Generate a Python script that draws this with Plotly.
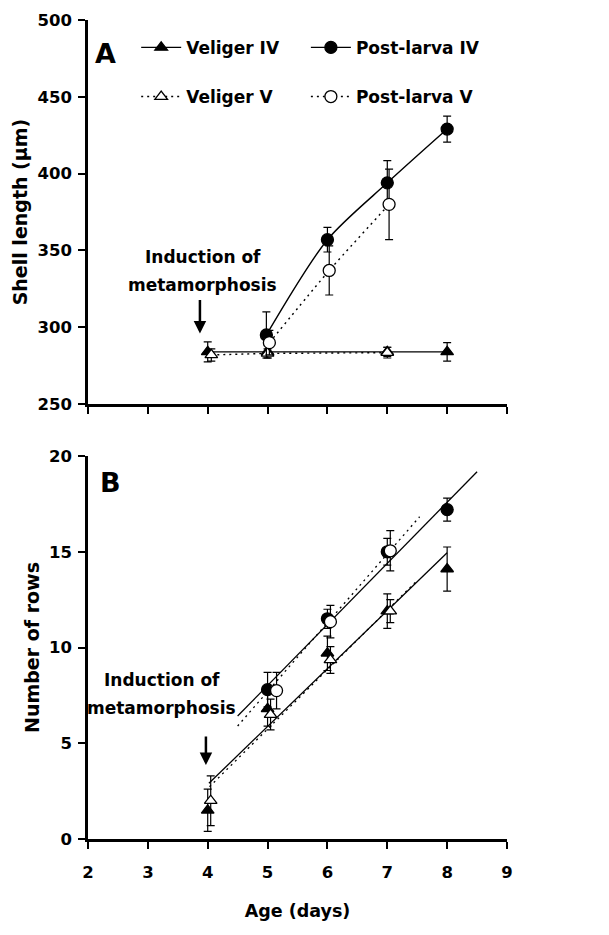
import plotly.graph_objects as go

# ---------------- Panel A: shell length ----------------
a_vel4_x = [4, 5, 7, 8]
a_vel4_y = [284, 284, 284, 284]
a_vel4_e = [6.5, 4, 3, 6]

a_vel5_x = [4.06, 5, 7]
a_vel5_y = [282, 283, 283.5]
a_vel5_e = [4, 3, 3.5]

a_pl4_x = [4.98, 6, 7, 8]
a_pl4_y = [295, 357, 394, 429]
a_pl4_e = [15, 8, 14.5, 8.5]

a_pl5_x = [5.03, 6.03, 7.03]
a_pl5_y = [290, 337, 380]
a_pl5_e = [8, 16, 23]

# ---------------- Panel B: number of rows ----------------
b_vel4_x = [4, 5, 6, 7, 8]
b_vel4_y = [1.5, 6.8, 9.7, 11.9, 14.1]
b_vel4_e = [1.1, 0.9, 0.9, 0.9, 1.15]

b_vel5_x = [4.05, 5.05, 6.05, 7.05]
b_vel5_y = [2.0, 6.5, 9.35, 11.9]
b_vel5_e = [1.3, 0.8, 0.7, 0.6]

b_pl4_x = [5, 6, 7, 8]
b_pl4_y = [7.8, 11.5, 15.0, 17.2]
b_pl4_e = [0.9, 0.5, 0.7, 0.6]

b_pl5_x = [5.15, 6.05, 7.05]
b_pl5_y = [7.75, 11.35, 15.05]
b_pl5_e = [0.95, 0.85, 1.05]

# regression lines (end points)
fit_pl4_x = [4.5, 8.5]
fit_pl4_y = [6.42, 19.18]
fit_pl5_x = [4.5, 7.54]
fit_pl5_y = [5.9, 16.83]
fit_vel4_x = [4.02, 8.0]
fit_vel4_y = [2.91, 14.95]
fit_vel5_x = [4.03, 7.48]
fit_vel5_y = [2.73, 13.44]

x_ticks = [2, 3, 4, 5, 6, 7, 8, 9]

FONT = "DejaVu Sans"
DOT = "2px,4px"

fig = go.Figure()


def err(e):
    return dict(type="data", array=e, visible=True, color="black",
                thickness=1.2, width=4)


filled = dict(color="black", line=dict(color="black", width=1.3))
opened = dict(color="white", line=dict(color="black", width=1.3))

# Panel A traces
fig.add_trace(go.Scatter(x=a_vel4_x, y=a_vel4_y, error_y=err(a_vel4_e),
                         mode="lines+markers", name="Veliger IV",
                         line=dict(color="black", width=1.4),
                         marker=dict(symbol="triangle-up", size=11, **filled),
                         xaxis="x", yaxis="y", legend="legend"))
fig.add_trace(go.Scatter(x=a_vel5_x, y=a_vel5_y, error_y=err(a_vel5_e),
                         mode="lines+markers", name="Veliger V",
                         line=dict(color="black", width=1.4, dash=DOT),
                         marker=dict(symbol="triangle-up", size=11, **opened),
                         xaxis="x", yaxis="y", legend="legend3"))
fig.add_trace(go.Scatter(x=a_pl4_x, y=a_pl4_y, error_y=err(a_pl4_e),
                         mode="lines+markers", name="Post-larva IV",
                         line=dict(color="black", width=1.4, shape="spline", smoothing=0.8),
                         marker=dict(symbol="circle", size=12, **filled),
                         xaxis="x", yaxis="y", legend="legend2"))
fig.add_trace(go.Scatter(x=a_pl5_x, y=a_pl5_y, error_y=err(a_pl5_e),
                         mode="lines+markers", name="Post-larva V",
                         line=dict(color="black", width=1.4, dash=DOT, shape="spline", smoothing=0.5),
                         marker=dict(symbol="circle", size=12, **opened),
                         xaxis="x", yaxis="y", legend="legend4"))

# Panel B regression lines
for fx, fy, dash in [(fit_vel4_x, fit_vel4_y, "solid"), (fit_vel5_x, fit_vel5_y, DOT),
                     (fit_pl4_x, fit_pl4_y, "solid"), (fit_pl5_x, fit_pl5_y, DOT)]:
    fig.add_trace(go.Scatter(x=fx, y=fy, mode="lines", showlegend=False,
                             line=dict(color="black", width=1.3, dash=dash),
                             xaxis="x2", yaxis="y2", hoverinfo="skip"))

# Panel B points
fig.add_trace(go.Scatter(x=b_vel4_x, y=b_vel4_y, error_y=err(b_vel4_e), mode="markers",
                         marker=dict(symbol="triangle-up", size=11, **filled),
                         showlegend=False, xaxis="x2", yaxis="y2"))
fig.add_trace(go.Scatter(x=b_vel5_x, y=b_vel5_y, error_y=err(b_vel5_e), mode="markers",
                         marker=dict(symbol="triangle-up", size=11, **opened),
                         showlegend=False, xaxis="x2", yaxis="y2"))
fig.add_trace(go.Scatter(x=b_pl4_x, y=b_pl4_y, error_y=err(b_pl4_e), mode="markers",
                         marker=dict(symbol="circle", size=12, **filled),
                         showlegend=False, xaxis="x2", yaxis="y2"))
fig.add_trace(go.Scatter(x=b_pl5_x, y=b_pl5_y, error_y=err(b_pl5_e), mode="markers",
                         marker=dict(symbol="circle", size=12, **opened),
                         showlegend=False, xaxis="x2", yaxis="y2"))

axis_common = dict(showline=True, linecolor="black", linewidth=2.5, ticks="outside",
                   ticklen=7, tickwidth=2, tickcolor="black", showgrid=False,
                   zeroline=False, mirror=False, automargin=False,
                   tickfont=dict(family=FONT, size=16.5, color="black", weight="bold"))

title_font_y = dict(family=FONT, size=19, color="black", weight="bold")

fig.update_layout(
    width=609, height=935,
    margin=dict(l=88, r=102, t=20, b=96),
    plot_bgcolor="white", paper_bgcolor="white",
    font=dict(family=FONT, color="black"),
    xaxis=dict(domain=[0, 1], range=[2, 9], tickvals=x_ticks, showticklabels=False,
               anchor="y", **axis_common),
    yaxis=dict(domain=[0.531, 1], range=[250, 500], tickvals=[250, 300, 350, 400, 450, 500],
               anchor="x", ticklabelstandoff=3,
               title=dict(text="Shell length (µm)", standoff=5, font=title_font_y),
               **axis_common),
    xaxis2=dict(domain=[0, 1], range=[2, 9], tickvals=x_ticks, anchor="y2",
                ticklabelstandoff=9,
                title=dict(text="Age (days)", standoff=25,
                           font=dict(family=FONT, size=17.5, color="black", weight="bold")),
                **axis_common),
    yaxis2=dict(domain=[0, 0.4676], range=[0, 20], tickvals=[0, 5, 10, 15, 20], anchor="x2",
                ticklabelstandoff=3,
                title=dict(text="Number of rows", standoff=5, font=title_font_y),
                **axis_common),
    showlegend=True,
)

leg_font = dict(family=FONT, size=17, color="black", weight="bold")
for name, lx, ly in [("legend", 0.115, 0.966), ("legend2", 0.52, 0.966),
                     ("legend3", 0.115, 0.906), ("legend4", 0.52, 0.906)]:
    fig.update_layout(**{name: dict(x=lx, y=ly, xanchor="left", yanchor="middle",
                                    font=leg_font, itemwidth=40, bgcolor="rgba(0,0,0,0)",
                                    borderwidth=0, orientation="h")})

ann_font = dict(family=FONT, size=17, color="black", weight="bold")
annotations = [
    dict(text="A", x=2.3, y=478, xref="x", yref="y", showarrow=False,
         font=dict(family=FONT, size=27, color="black", weight="bold")),
    dict(text="B", x=2.38, y=18.6, xref="x2", yref="y2", showarrow=False,
         font=dict(family=FONT, size=27, color="black", weight="bold")),
    dict(text="Induction of", x=3.92, y=345.7, xref="x", yref="y", showarrow=False, font=ann_font),
    dict(text="metamorphosis", x=3.92, y=327.5, xref="x", yref="y", showarrow=False, font=ann_font),
    dict(text="Induction of", x=3.23, y=8.3, xref="x2", yref="y2", showarrow=False, font=ann_font),
    dict(text="metamorphosis", x=3.23, y=6.84, xref="x2", yref="y2", showarrow=False, font=ann_font),
    dict(text="", x=3.87, y=296, xref="x", yref="y", showarrow=True, ax=0, ay=-35,
         arrowhead=2, arrowsize=1, arrowwidth=2.5, arrowcolor="black"),
    dict(text="", x=3.97, y=3.86, xref="x2", yref="y2", showarrow=True, ax=0, ay=-30,
         arrowhead=2, arrowsize=1, arrowwidth=2.5, arrowcolor="black"),
]
fig.update_layout(annotations=annotations)

fig.write_html("out.html", config={"displayModeBar": False},
               post_script="document.body.style.margin='0';document.body.style.padding='0';")
